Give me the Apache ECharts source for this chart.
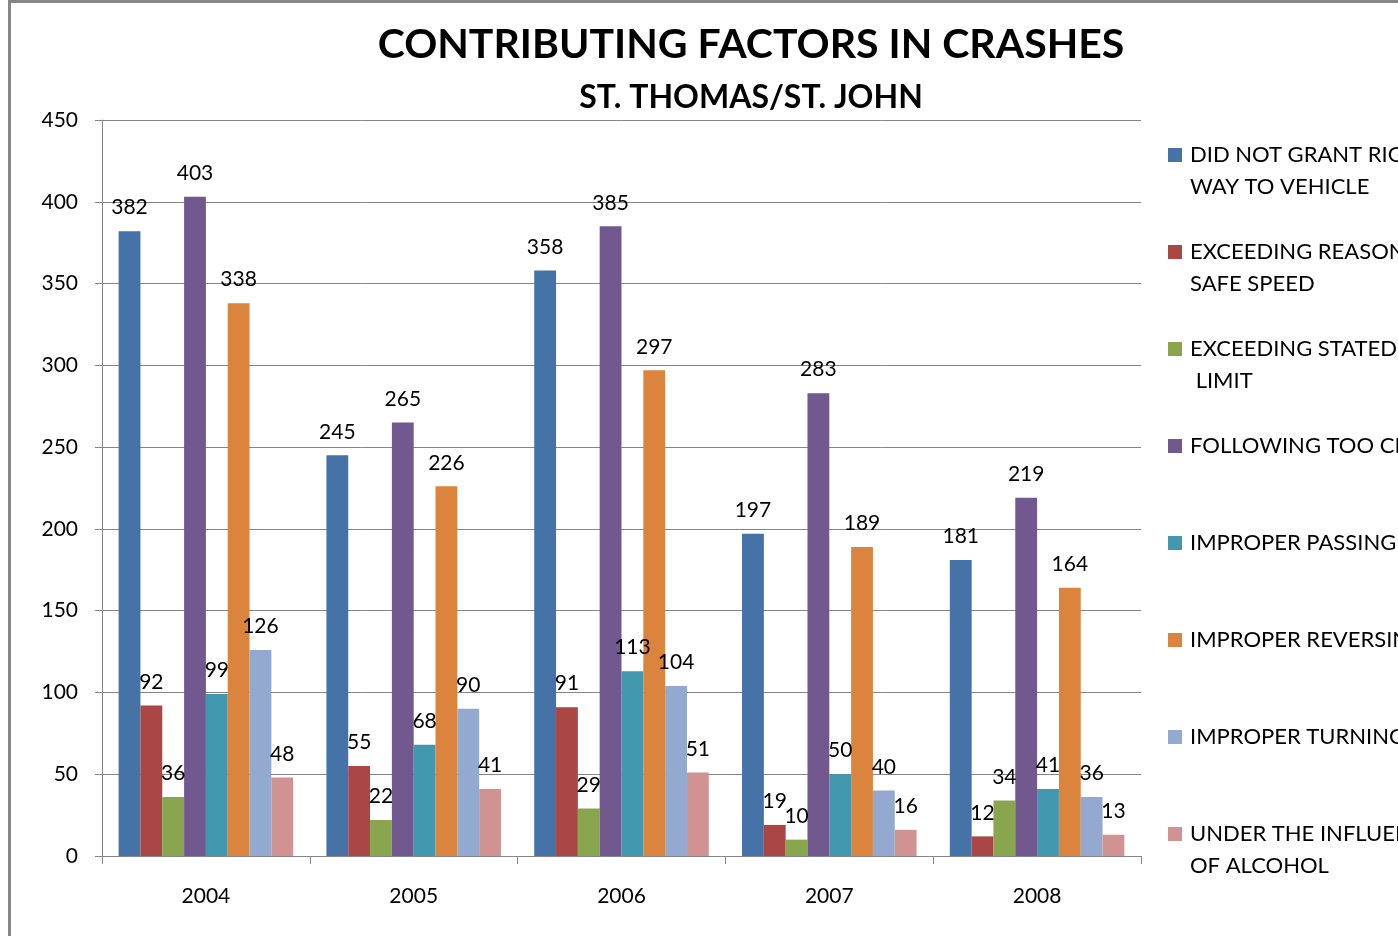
<!DOCTYPE html>
<html lang="en">
<head>
    <meta charset="UTF-8">
    <title>Contributing Factors in Crashes</title>
    <script src="https://cdn.jsdelivr.net/npm/echarts@6/dist/echarts.min.js"></script>
    <style>
        body { margin: 0; padding: 0; background: #fff; }
        #main { position: absolute; left: 0; top: 0; width: 1398px; height: 936px; }
        .frame {
            position: absolute; left: 8px; top: 0; width: 1390px; height: 936px;
            box-sizing: border-box; border-top: 3px solid #878787; border-left: 3px solid #878787;
            pointer-events: none;
        }
    </style>
</head>
<body>
    <div id="main"></div>
    <div class="frame"></div>
    <script type="text/javascript">
        var years = ['2004', '2005', '2006', '2007', '2008'];
        var factorNames = [
            'DID NOT GRANT RIGHT OF\nWAY TO VEHICLE',
            'EXCEEDING REASONABLE\nSAFE SPEED',
            'EXCEEDING STATED SPEED\n LIMIT',
            'FOLLOWING TOO CLOSELY',
            'IMPROPER PASSING',
            'IMPROPER REVERSING',
            'IMPROPER TURNING',
            'UNDER THE INFLUENCE\nOF ALCOHOL'
        ];
        var didNotGrant = [382, 245, 358, 197, 181];
        var reasonableSpeed = [92, 55, 91, 19, 12];
        var statedSpeed = [36, 22, 29, 10, 34];
        var followingClose = [403, 265, 385, 283, 219];
        var improperPassing = [99, 68, 113, 50, 41];
        var improperReversing = [338, 226, 297, 189, 164];
        var improperTurning = [126, 90, 104, 40, 36];
        var underInfluence = [48, 41, 51, 16, 13];
        var yTicks = [0, 50, 100, 150, 200, 250, 300, 350, 400, 450];

        var seriesValues = [didNotGrant, reasonableSpeed, statedSpeed, followingClose,
            improperPassing, improperReversing, improperTurning, underInfluence];
        var colors = ['#4572A7', '#AA4643', '#89A54E', '#71588F', '#4198AF', '#DB843D', '#93A9CF', '#D19392'];
        var font = 'Lato, "Open Sans", sans-serif';

        var myChart = echarts.init(document.getElementById('main'));

        var option = {
            backgroundColor: 'transparent',
            color: colors,
            animation: false,
            title: [{
                text: 'CONTRIBUTING FACTORS IN CRASHES',
                left: 746, top: 19, textAlign: 'center',
                textStyle: { fontFamily: font, fontWeight: 'bold', fontSize: 41, color: '#000' }
            }, {
                text: 'ST. THOMAS/ST. JOHN',
                left: 746, top: 77, textAlign: 'center',
                textStyle: { fontFamily: font, fontWeight: 'bold', fontSize: 32, color: '#000' }
            }],
            legend: {
                orient: 'vertical',
                left: 1168, top: 107, padding: 0,
                itemWidth: 14, itemHeight: 14, itemGap: 1,
                icon: 'rect',
                textStyle: { fontFamily: font, fontSize: 22, lineHeight: 32, color: '#000', padding: [0, 0, 0, 3] },
                // 每项三行高：空行 + 文字 + (第二行或空行)，图标对齐第一行
                formatter: function (name) {
                    return name.indexOf('\n') >= 0 ? ' \n' + name : ' \n' + name + '\n ';
                },
                data: factorNames
            },
            grid: { left: 102, right: 257, top: 120, bottom: 80 },
            xAxis: {
                type: 'category',
                data: years,
                axisLine: { lineStyle: { color: '#868686' } },
                axisTick: { show: true, length: 8, lineStyle: { color: '#868686' } },
                axisLabel: { fontFamily: font, fontSize: 21, color: '#000', margin: 30 }
            },
            yAxis: {
                type: 'value',
                min: 0, max: 450, interval: 50,
                axisLine: { show: true, lineStyle: { color: '#868686' } },
                axisTick: { show: true, length: 7, lineStyle: { color: '#868686' } },
                splitLine: { lineStyle: { color: '#868686', width: 1 } },
                axisLabel: {
                    fontFamily: font, fontSize: 21, color: '#000', margin: 24,
                    formatter: function (v) { return yTicks.indexOf(v) >= 0 ? String(v) : ''; }
                }
            },
            series: seriesValues.map(function (vals, i) {
                return {
                    name: factorNames[i],
                    type: 'bar',
                    data: vals,
                    barGap: '0%',
                    barCategoryGap: '16%',
                    label: {
                        show: true, position: 'top', distance: 13,
                        fontFamily: font, fontSize: 21, color: '#000'
                    }
                };
            })
        };
        myChart.setOption(option);
    </script>
</body>
</html>
